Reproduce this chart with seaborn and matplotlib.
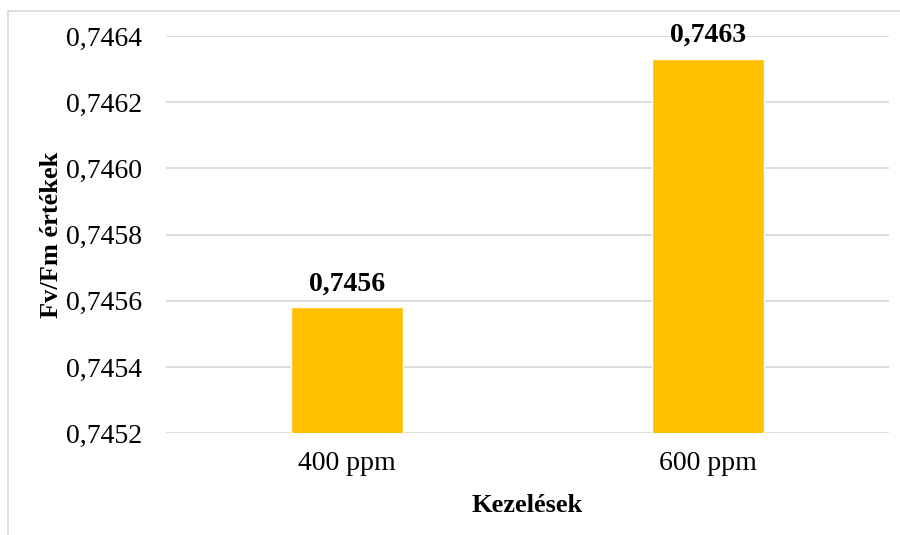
import matplotlib
matplotlib.use("Agg")
import matplotlib.pyplot as plt
from matplotlib.patches import Rectangle
from matplotlib.ticker import FuncFormatter, MultipleLocator
import seaborn as sns
import pandas as pd

# Fv/Fm values per treatment
treatments = ["400 ppm", "600 ppm"]
fvfm = [0.74558, 0.74633]

y_min, y_max, y_step = 0.7452, 0.7464, 0.0002

sns.set_theme(style="white")
plt.rcParams["font.family"] = ["Liberation Serif", "DejaVu Serif"]

df = pd.DataFrame({"Kezelés": treatments, "Fv/Fm": fvfm})

fig = plt.figure(figsize=(9, 5.35), dpi=100)
ax = fig.add_axes([166 / 900, 1 - 433.3 / 535, 723 / 900, 397.3 / 535])

sns.barplot(data=df, x="Kezelés", y="Fv/Fm", color="#FFC000", width=0.31,
            saturation=1, ax=ax, zorder=3)

ax.set_ylim(y_min, y_max)
ax.yaxis.set_major_locator(MultipleLocator(y_step))
comma = lambda v, _=None: f"{v:.4f}".replace(".", ",")
ax.yaxis.set_major_formatter(FuncFormatter(comma))
ax.grid(axis="y", color="#d9d9d9", linewidth=1.3, zorder=0)
ax.set_axisbelow(True)
for s in ax.spines.values():
    s.set_visible(False)
ax.tick_params(axis="both", length=0, labelsize=20, colors="black")
ax.tick_params(axis="y", pad=17)
ax.tick_params(axis="x", pad=13)

ax.set_xlabel("Kezelések", fontsize=19, fontweight="bold", color="black")
ax.set_ylabel("Fv/Fm értékek", fontsize=19, fontweight="bold", color="black")
ax.xaxis.set_label_coords(0.5, -0.152)
ax.yaxis.set_label_coords(-0.142, 0.5)

for cont in ax.containers:
    ax.bar_label(cont, labels=[comma(v) for v in cont.datavalues], padding=8,
                 fontsize=20, fontweight="bold", color="black")

# light frame around the chart area
fig.patches.append(Rectangle((8 / 900, -0.1), 1.2, 1 - 11 / 535 + 0.1,
                             transform=fig.transFigure, fill=False,
                             edgecolor="#d9d9d9", linewidth=1.2))

fig.savefig("out.png", dpi=100)
